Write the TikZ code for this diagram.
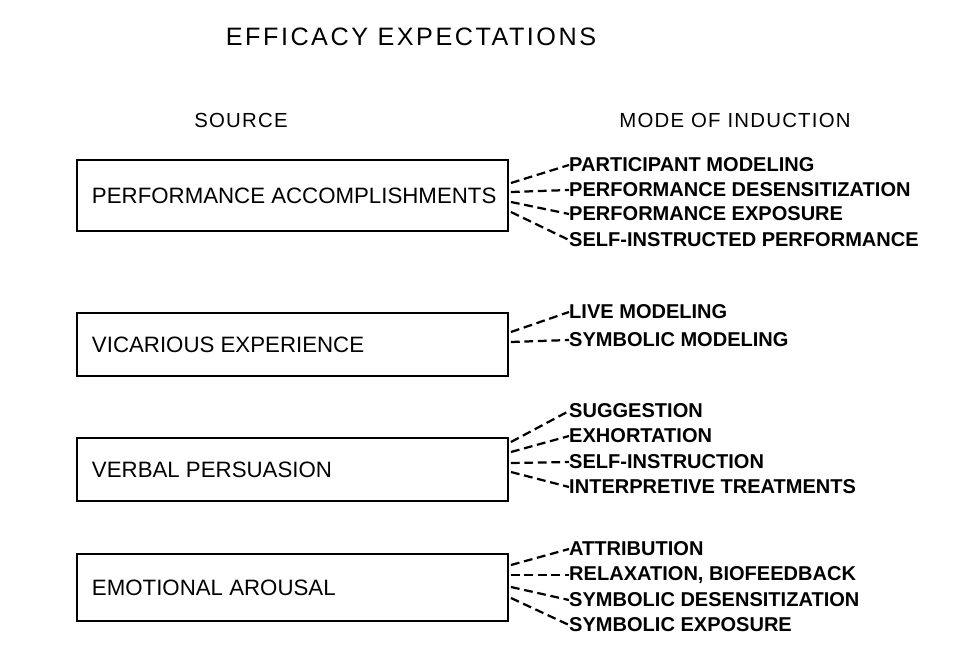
\documentclass[tikz,border=0pt]{standalone}
\usepackage{fontspec}
\setmainfont{Liberation Sans}
\usetikzlibrary{calc}

\newcommand{\srctext}[1]{\makebox[12.03cm][l]{#1}}

\begin{document}
\begin{tikzpicture}[x=0.03cm,y=-0.03cm,
        every node/.style={font=\fontsize{19}{20}\selectfont},
        heading/.style={font=\fontsize{17.4}{20}\selectfont\addfontfeatures{LetterSpace=6}},
        source/.style={draw,line width=1.6pt,inner xsep=0.45cm,minimum width=12.93cm},
        mode/.style={anchor=west,inner sep=0pt,font=\fontsize{17.1}{20}\selectfont\bfseries},
        link/.style={line width=1.9pt,dash pattern=on 7.5pt off 4pt}]
        \useasboundingbox (0,0) rectangle (978,650);
        % titles
        \node[font=\fontsize{21.5}{24}\selectfont\addfontfeatures{LetterSpace=10}] (title) at (411,37) {EFFICACY EXPECTATIONS};
        \node[heading] (src) at (241,120) {SOURCE};
        \node[heading] (ind) at (735,120) {MODE OF INDUCTION};
        % sources
        \node[source,minimum height=2.13cm] (perf) at (292.5,195.5) {\srctext{PERFORMANCE ACCOMPLISHMENTS}};
        \node[source,minimum height=1.89cm] (vic)  at (292.5,344.5) {\srctext{VICARIOUS EXPERIENCE}};
        \node[source,minimum height=1.89cm] (verb) at (292.5,469.5) {\srctext{VERBAL PERSUASION}};
        \node[source,minimum height=2.01cm] (emo)  at (292.5,587.5) {\srctext{EMOTIONAL AROUSAL}};
        % modes of induction
        \node[mode] (pm)  at (569,165) {PARTICIPANT MODELING};
        \node[mode] (pd)  at (569,190) {PERFORMANCE DESENSITIZATION};
        \node[mode] (pe)  at (569,214) {PERFORMANCE EXPOSURE};
        \node[mode] (sip) at (569,240) {SELF-INSTRUCTED PERFORMANCE};
        \node[mode] (lm)  at (569,312) {LIVE MODELING};
        \node[mode] (sm)  at (569,340) {SYMBOLIC MODELING};
        \node[mode] (sug) at (569,411) {SUGGESTION};
        \node[mode] (exh) at (569,436) {EXHORTATION};
        \node[mode] (si)  at (569,462) {SELF-INSTRUCTION};
        \node[mode] (it)  at (569,487) {INTERPRETIVE TREATMENTS};
        \node[mode] (att) at (569,549) {ATTRIBUTION};
        \node[mode] (rel) at (569,575) {RELAXATION, BIOFEEDBACK};
        \node[mode] (sd)  at (569,600) {SYMBOLIC DESENSITIZATION};
        \node[mode] (se)  at (569,625) {SYMBOLIC EXPOSURE};
        % dashed links
        \draw[link] ($(perf.east)+(2,-12.5)$) -- (pm.west);
        \draw[link] ($(perf.east)+(2,-3.5)$)  -- (pd.west);
        \draw[link] ($(perf.east)+(2,6.5)$)   -- (pe.west);
        \draw[link] ($(perf.east)+(2,16.5)$)  -- (sip.west);
        \draw[link] ($(vic.east)+(2,-12.5)$)  -- (lm.west);
        \draw[link] ($(vic.east)+(2,-2.5)$)   -- (sm.west);
        \draw[link] ($(verb.east)+(2,-27.5)$) -- (sug.west);
        \draw[link] ($(verb.east)+(2,-17.5)$) -- (exh.west);
        \draw[link] ($(verb.east)+(2,-6.5)$)  -- (si.west);
        \draw[link] ($(verb.east)+(2,2.5)$)   -- (it.west);
        \draw[link] ($(emo.east)+(2,-22.5)$)  -- (att.west);
        \draw[link] ($(emo.east)+(2,-12.5)$)  -- (rel.west);
        \draw[link] ($(emo.east)+(2,-0.5)$)   -- (sd.west);
        \draw[link] ($(emo.east)+(2,10.5)$)   -- (se.west);
\end{tikzpicture}
\end{document}
